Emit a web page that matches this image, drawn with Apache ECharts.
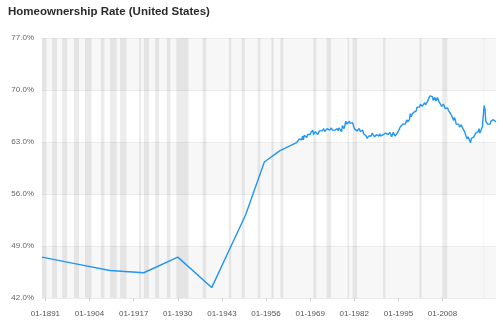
<!DOCTYPE html>
<html>
<head>
<meta charset="utf-8">
<script src="https://cdn.jsdelivr.net/npm/echarts@6/dist/echarts.min.js"></script>
<style>
  html, body { margin: 0; padding: 0; background: #fff; }
  #chart { width: 503px; height: 322px; }
</style>
</head>
<body>
<div id="chart"></div>
<script>
// Early census benchmarks (month-stamped) before the quarterly survey begins
const benchmarkDates = ['1890-01', '1900-01', '1910-01', '1920-01', '1930-01', '1940-01', '1950-01', '1955-07', '1960-01'];
const benchmarkValues = [47.5, 46.6, 45.7, 45.4, 47.5, 43.4, 53.2, 60.3, 61.8];

// Quarterly homeownership rate, Q1 1965 onward (%)
const quarterlyStartYear = 1965;
const quarterlyValues = [
  62.9, 62.9, 62.9, 63.4,  // 1965
  63.5, 63.2, 63.3, 63.8,  // 1966
  63.3, 63.9, 63.8, 63.9,  // 1967
  63.6, 64.0, 64.2, 64.1,  // 1968
  64.0, 64.3, 64.3, 64.6,  // 1969
  64.0, 64.0, 64.4, 64.3,  // 1970
  64.4, 64.0, 64.2, 64.5,  // 1971
  64.4, 64.4, 64.5, 64.4,  // 1972
  64.8, 64.4, 64.4, 64.6,  // 1973
  64.8, 64.7, 64.6, 64.6,  // 1974
  64.4, 64.9, 64.6, 64.5,  // 1975
  64.6, 64.6, 64.8, 64.7,  // 1976
  64.8, 64.5, 64.9, 64.8,  // 1977
  64.8, 64.4, 65.2, 65.4,  // 1978
  64.8, 64.9, 65.8, 65.4,  // 1979
  65.5, 65.5, 65.8, 65.5,  // 1980
  65.6, 65.3, 65.6, 65.2,  // 1981
  64.8, 64.9, 64.9, 64.5,  // 1982
  64.7, 64.7, 64.8, 64.4,  // 1983
  64.6, 64.6, 64.6, 64.1,  // 1984
  64.1, 63.9, 63.8, 63.5,  // 1985
  63.6, 63.8, 63.8, 64.0,  // 1986
  63.8, 64.2, 64.2, 64.0,  // 1987
  63.7, 63.7, 64.0, 63.8,  // 1988
  63.9, 63.8, 64.1, 63.8,  // 1989
  64.0, 63.7, 64.0, 64.1,  // 1990
  63.9, 64.2, 64.2, 64.2,  // 1991
  64.0, 63.9, 64.3, 64.4,  // 1992
  63.7, 63.8, 64.3, 64.2,  // 1993
  63.8, 63.8, 64.1, 64.2,  // 1994
  64.2, 64.7, 65.0, 65.1,  // 1995
  65.1, 65.4, 65.6, 65.4,  // 1996
  65.4, 65.7, 66.0, 65.7,  // 1997
  65.9, 66.0, 66.8, 66.4,  // 1998
  66.7, 66.6, 67.0, 66.9,  // 1999
  67.1, 67.2, 67.7, 67.5,  // 2000
  67.5, 67.7, 68.1, 68.0,  // 2001
  67.8, 67.6, 68.0, 68.3,  // 2002
  68.0, 68.0, 68.4, 68.6,  // 2003
  68.6, 69.2, 69.0, 69.2,  // 2004
  69.1, 68.6, 68.8, 69.0,  // 2005
  68.5, 68.7, 69.0, 68.9,  // 2006
  68.4, 68.2, 68.2, 67.8,  // 2007
  67.8, 68.1, 67.9, 67.5,  // 2008
  67.3, 67.4, 67.6, 67.2,  // 2009
  67.1, 66.9, 66.9, 66.5,  // 2010
  66.4, 65.9, 66.3, 66.0,  // 2011
  65.4, 65.5, 65.5, 65.4,  // 2012
  65.0, 65.0, 65.3, 65.2,  // 2013
  64.8, 64.7, 64.4, 64.0,  // 2014
  63.7, 63.4, 63.7, 63.8,  // 2015
  63.6, 62.9, 63.5, 63.7,  // 2016
  63.6, 63.7, 63.9, 64.2,  // 2017
  64.2, 64.3, 64.4, 64.8,  // 2018
  64.2, 64.1, 64.8, 65.1,  // 2019
  65.3, 67.9, 67.4, 65.8,  // 2020
  65.6, 65.4, 65.4, 65.5,  // 2021
  65.4, 65.8, 66.0, 65.9,  // 2022
  66.0, 65.9, 66.0, 65.7   // 2023
];

// NBER recession periods shaded behind the line
const recessions = [
  ['1890-01', '1891-05'], ['1893-01', '1894-06'], ['1895-12', '1897-06'],
  ['1899-06', '1900-12'], ['1902-09', '1904-08'], ['1907-05', '1908-06'],
  ['1910-01', '1912-01'], ['1913-01', '1914-12'], ['1918-08', '1919-03'],
  ['1920-01', '1921-07'], ['1923-05', '1924-07'], ['1926-10', '1927-11'],
  ['1929-08', '1933-03'], ['1937-05', '1938-06'], ['1945-02', '1945-10'],
  ['1948-11', '1949-10'], ['1953-07', '1954-05'], ['1957-08', '1958-04'],
  ['1960-04', '1961-02'], ['1969-12', '1970-11'], ['1973-11', '1975-03'],
  ['1980-01', '1980-07'], ['1981-07', '1982-11'], ['1990-07', '1991-03'],
  ['2001-03', '2001-11'], ['2007-12', '2009-06'], ['2020-02', '2020-04']
];

// Year ticks along the bottom axis
const tickYears = [1891, 1904, 1917, 1930, 1943, 1956, 1969, 1982, 1995, 2008];

// Y axis range and step
const yMin = 42, yMax = 77, yStep = 7;

// 'YYYY-MM' -> fractional year
function toYear(s) {
  const [y, m] = s.split('-').map(Number);
  return y + (m - 1) / 12;
}

const seriesData = benchmarkDates.map((d, i) => [toYear(d), benchmarkValues[i]]);
quarterlyValues.forEach((v, i) => seriesData.push([quarterlyStartYear + i / 4, v]));

const xMin = seriesData[0][0];
const xMax = seriesData[seriesData.length - 1][0];

const font = 'Liberation Sans, Arial, Helvetica, sans-serif';

const chart = echarts.init(document.getElementById('chart'), null, { renderer: 'canvas' });
chart.setOption({
  animation: false,
  backgroundColor: '#fff',
  title: {
    text: 'Homeownership Rate (United States)',
    left: 3,
    top: 1,
    textStyle: { fontFamily: font, fontSize: 11.5, fontWeight: 'bold', color: '#2b2b2b' }
  },
  grid: { left: 42, right: 7, top: 38, bottom: 24, containLabel: false },
  xAxis: {
    type: 'value',
    min: xMin,
    max: xMax,
    axisLine: { show: false },
    axisTick: {
      show: true,
      customValues: tickYears,
      length: 3,
      lineStyle: { color: '#d0d0d0' }
    },
    axisLabel: {
      customValues: tickYears,
      formatter: v => '01-' + Math.round(v),
      fontFamily: font,
      fontSize: 8,
      color: '#555',
      margin: 12
    },
    splitLine: { show: false }
  },
  yAxis: {
    type: 'value',
    min: yMin,
    max: yMax,
    interval: yStep,
    axisLine: { show: false },
    axisTick: { show: false },
    axisLabel: {
      formatter: v => v.toFixed(1) + '%',
      fontFamily: font,
      fontSize: 8,
      color: '#666',
      margin: 8
    },
    splitLine: { show: true, lineStyle: { color: '#ececec', width: 1 } },
    splitArea: { show: true, areaStyle: { color: ['#f7f7f7', '#ffffff'] } }
  },
  series: [{
    type: 'line',
    data: seriesData,
    showSymbol: false,
    symbol: 'none',
    lineStyle: { color: '#2196f3', width: 1.4 },
    itemStyle: { color: '#2196f3' },
    z: 3,
    markArea: {
      silent: true,
      itemStyle: { color: 'rgba(0,0,0,0.075)' },
      data: recessions.map(([a, b]) => [{ xAxis: toYear(a) }, { xAxis: toYear(b) }])
    }
  }]
});
</script>
</body>
</html>
